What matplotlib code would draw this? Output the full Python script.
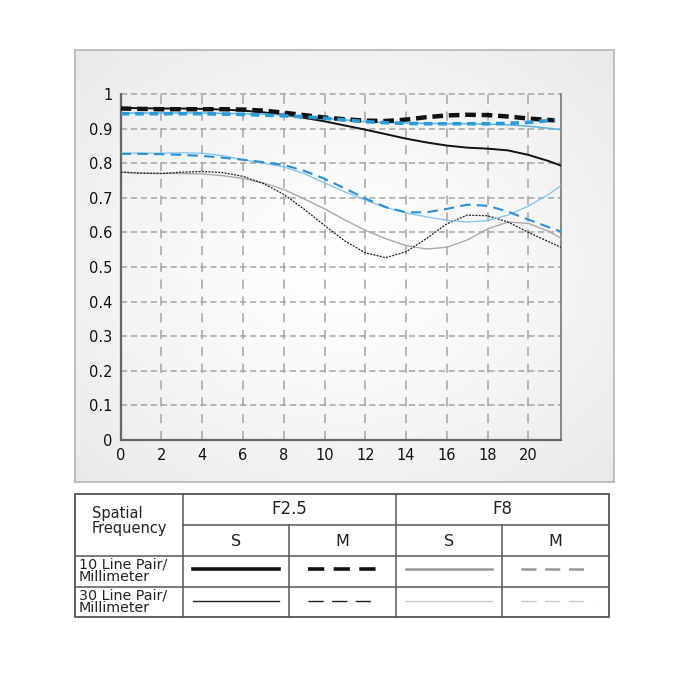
import matplotlib
matplotlib.use("Agg")
import matplotlib.pyplot as plt
import numpy as np
from matplotlib.patches import Rectangle

# Spatial position along image height (mm) and MTF values
x_full = [0, 1, 2, 3, 4, 5, 6, 7, 8, 9, 10, 11, 12, 13, 14, 15, 16, 17, 18, 19, 20, 21, 21.6]
x_short = [0, 1, 2, 3, 4, 5, 6, 7, 8, 9, 10, 11, 12, 13, 14, 15, 16, 17, 18, 19, 20, 21, 21.3]

f25_s10 = [0.960, 0.959, 0.958, 0.958, 0.957, 0.955, 0.952, 0.947, 0.940, 0.931, 0.921, 0.909,
           0.897, 0.884, 0.871, 0.860, 0.851, 0.845, 0.842, 0.837, 0.824, 0.806, 0.793]
f25_m10 = [0.958, 0.957, 0.956, 0.956, 0.956, 0.956, 0.955, 0.952, 0.946, 0.939, 0.932, 0.927,
           0.923, 0.922, 0.926, 0.933, 0.938, 0.940, 0.939, 0.935, 0.929, 0.925, 0.924]
f8_s10 = [0.945, 0.945, 0.945, 0.945, 0.945, 0.944, 0.943, 0.942, 0.939, 0.935, 0.930, 0.925,
          0.920, 0.917, 0.916, 0.915, 0.914, 0.914, 0.913, 0.911, 0.907, 0.901, 0.897]
f8_m10 = [0.943, 0.943, 0.943, 0.943, 0.943, 0.942, 0.941, 0.939, 0.937, 0.934, 0.930, 0.925,
          0.920, 0.917, 0.915, 0.914, 0.914, 0.914, 0.914, 0.915, 0.918, 0.923, 0.926]
f25_s30 = [0.774, 0.772, 0.771, 0.770, 0.769, 0.764, 0.756, 0.743, 0.724, 0.697, 0.668, 0.636,
           0.606, 0.582, 0.562, 0.552, 0.557, 0.578, 0.610, 0.630, 0.626, 0.603, 0.583]
f25_m30 = [0.774, 0.771, 0.770, 0.774, 0.776, 0.773, 0.762, 0.741, 0.710, 0.667, 0.620, 0.575,
           0.541, 0.527, 0.544, 0.582, 0.625, 0.650, 0.648, 0.630, 0.600, 0.573, 0.557]
f8_s30 = [0.829, 0.829, 0.829, 0.830, 0.829, 0.822, 0.810, 0.800, 0.789, 0.770, 0.743, 0.717,
          0.693, 0.672, 0.656, 0.645, 0.635, 0.630, 0.634, 0.650, 0.676, 0.710, 0.735]
f8_m30 = [0.827, 0.827, 0.826, 0.824, 0.821, 0.816, 0.810, 0.803, 0.795, 0.778, 0.755, 0.727,
          0.698, 0.673, 0.658, 0.658, 0.668, 0.680, 0.677, 0.660, 0.637, 0.615, 0.602]

x_ticks = [0, 2, 4, 6, 8, 10, 12, 14, 16, 18, 20]
y_ticks = [0, 0.1, 0.2, 0.3, 0.4, 0.5, 0.6, 0.7, 0.8, 0.9, 1]
y_labels = ['0', '0.1', '0.2', '0.3', '0.4', '0.5', '0.6', '0.7', '0.8', '0.9', '1']

W = 680.0
fig = plt.figure(figsize=(6.8, 6.8), dpi=100)
fig.patch.set_facecolor('white')

def fx(px):
    return px / W

def fy(py):
    return 1 - py / W

# soft gradient panel behind the chart
bg = fig.add_axes([fx(75), fy(482), fx(614 - 75), (482 - 50) / W])
gx, gy = np.meshgrid(np.linspace(-1, 1, 200), np.linspace(-1, 1, 200))
r = np.clip(np.sqrt(gx ** 2 + gy ** 2) / 1.41, 0, 1)
shade = 1.0 - 0.085 * r ** 1.3
bg.imshow(np.dstack([shade, shade, shade]), extent=[0, 1, 0, 1], aspect='auto')
bg.set_xticks([])
bg.set_yticks([])
for s in bg.spines.values():
    s.set_color('#b5b5b5')
    s.set_linewidth(1.2)

ax = fig.add_axes([fx(120.7), fy(440), fx(561 - 120.7), (440 - 94) / W])
ax.patch.set_alpha(0)
ax.set_xlim(0, 21.6)
ax.set_ylim(0, 1)
ax.set_xticks(x_ticks)
ax.set_yticks(y_ticks)
ax.set_yticklabels(y_labels)
ax.tick_params(length=0, labelsize=10.5, colors='#111111', pad=6)
for t in y_ticks[1:]:
    ax.axhline(t, color='#a5a5a5', lw=1.1, ls=(0, (4, 2.5)), zorder=1, clip_on=False)
for t in x_ticks[1:]:
    ax.axvline(t, color='#a5a5a5', lw=1.1, ls=(0, (6, 5)), zorder=1)
ax.spines['top'].set_visible(False)
for side in ['left', 'bottom']:
    ax.spines[side].set_color('#666666')
    ax.spines[side].set_linewidth(1.6)
ax.spines['right'].set_color('#777777')
ax.spines['right'].set_linewidth(1.2)

# 30 lp/mm curves
ax.plot(x_full, f25_s30, color='#aaaaaa', lw=1.0, zorder=3)
ax.plot(x_full, f25_m30, color='#222222', lw=0.9, ls=(0, (1.6, 1.0)), zorder=3)
ax.plot(x_full, f8_s30, color='#7cc3ee', lw=0.9, zorder=3)
ax.plot(x_full, f8_m30, color='#2b8fd6', lw=1.5, ls=(0, (5, 3)), zorder=4)
# 10 lp/mm curves
ax.plot(x_full, f25_s10, color='#111111', lw=1.4, zorder=4)
ax.plot(x_full, f8_s10, color='#5ab4e6', lw=1.1, zorder=4)
ax.plot(x_short, f25_m10, color='#111111', lw=3.2, ls=(0, (2.4, 1.3)), zorder=5)
ax.plot(x_short, f8_m10, color='#2a9ad8', lw=2.6, ls=(0, (2.4, 1.6)), zorder=6)

# legend table
tab = fig.add_axes([0, 0, 1, 1], facecolor='none')
tab.set_xlim(0, W)
tab.set_ylim(W, 0)
tab.axis('off')
lc = '#555555'
left, right, top, bottom = 75, 609, 494, 617
c1, c2, c3, c4 = 183, 289, 396, 502
r1, r2, r3 = 525, 556, 587
tab.add_patch(Rectangle((left, top), right - left, bottom - top, fill=False, ec=lc, lw=1.3))
tab.plot([c1, c1], [top, bottom], color=lc, lw=1.1)
tab.plot([c3, c3], [top, bottom], color=lc, lw=1.1)
tab.plot([c2, c2], [r1, bottom], color=lc, lw=1.1)
tab.plot([c4, c4], [r1, bottom], color=lc, lw=1.1)
tab.plot([c1, right], [r1, r1], color=lc, lw=1.1)
tab.plot([left, right], [r2, r2], color=lc, lw=1.1)
tab.plot([left, right], [r3, r3], color=lc, lw=1.1)

tc = '#222222'
tab.text(92, 521, 'Spatial\nFrequency', ha='left', va='center', fontsize=10.5,
         color=tc, linespacing=1.0)
tab.text((c1 + c3) / 2, 509, 'F2.5', ha='center', va='center', fontsize=12, color=tc)
tab.text((c3 + right) / 2, 509, 'F8', ha='center', va='center', fontsize=12, color=tc)
for cx, lab in zip([(c1 + c2) / 2, (c2 + c3) / 2, (c3 + c4) / 2, (c4 + right) / 2],
                   ['S', 'M', 'S', 'M']):
    tab.text(cx, 541, lab, ha='center', va='center', fontsize=11.5, color=tc)
tab.text(79, 571, '10 Line Pair/\nMillimeter', ha='left', va='center', fontsize=10.3,
         color=tc, linespacing=0.82)
tab.text(79, 602, '30 Line Pair/\nMillimeter', ha='left', va='center', fontsize=10.3,
         color=tc, linespacing=0.82)

ya, yb = 569, 601
tab.plot([193, 279], [ya, ya], color='#111111', lw=2.6)
tab.plot([308, 378], [ya, ya], color='#111111', lw=2.6, ls=(0, (4.5, 2.6)))
tab.plot([406, 492], [ya, ya], color='#999999', lw=1.8)
tab.plot([521, 592], [ya, ya], color='#999999', lw=1.8, ls=(0, (6, 3.5)))
tab.plot([193, 279], [yb, yb], color='#222222', lw=1.0)
tab.plot([308, 378], [yb, yb], color='#222222', lw=1.0, ls=(0, (11, 6)))
tab.plot([406, 492], [yb, yb], color='#c8c8c8', lw=1.0)
tab.plot([521, 592], [yb, yb], color='#c8c8c8', lw=1.0, ls=(0, (11, 6)))

fig.savefig('out.png', dpi=100)
